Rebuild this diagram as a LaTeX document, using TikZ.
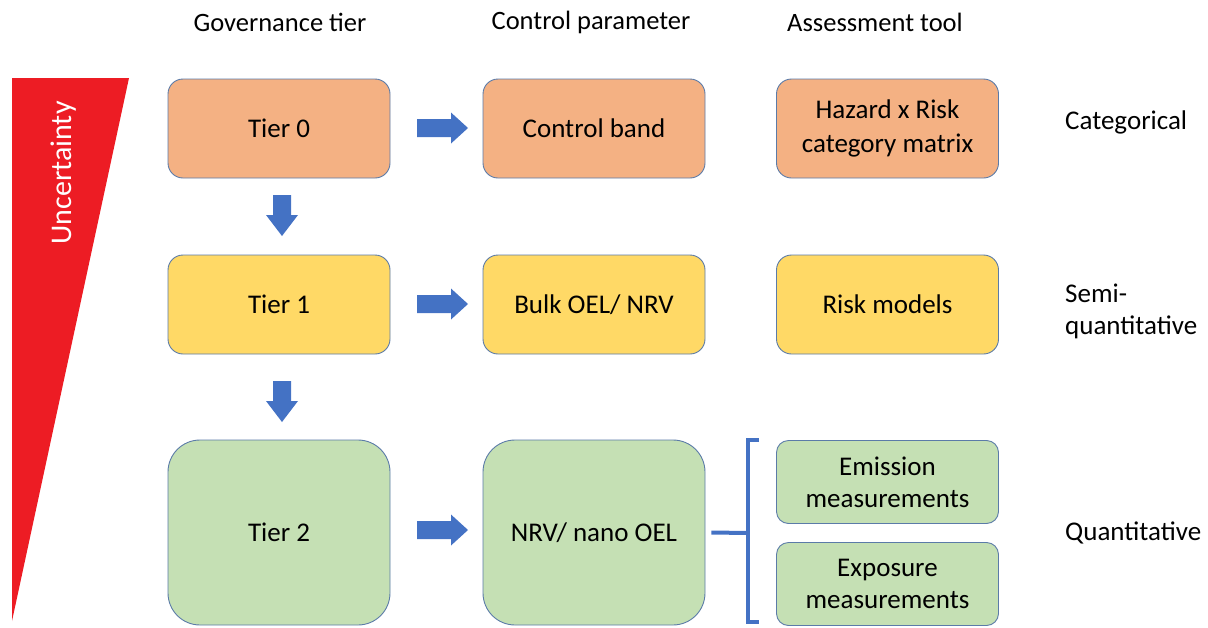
\documentclass[tikz,border=0pt]{standalone}
\usepackage{fontspec}
\setmainfont{Carlito}
\begin{document}
\begin{tikzpicture}[x=1pt,y=-1pt,
  box/.style={draw=boxline, line width=0.9pt, rounded corners=15pt, minimum width=222pt, minimum height=99pt, align=center, font=\fontsize{27}{34}\selectfont, inner sep=0pt},
  bigbox/.style={box, rounded corners=32pt, minimum height=185pt},
  smallbox/.style={box, rounded corners=12pt, minimum height=83pt, font=\fontsize{27}{32}\selectfont},
  hdr/.style={font=\fontsize{26.5}{30}\selectfont, inner sep=0pt},
  side/.style={font=\fontsize{27}{32}\selectfont, inner sep=0pt, anchor=west, align=left},
  blockarrow/.style={fill=arrowblue, draw=none}]
\definecolor{boxline}{HTML}{5B7BA8}
\definecolor{orangef}{HTML}{F4B183}
\definecolor{yellowf}{HTML}{FFD966}
\definecolor{greenf}{HTML}{C5E0B4}
\definecolor{arrowblue}{HTML}{4472C4}
\definecolor{redtri}{HTML}{ED1C24}
\useasboundingbox (0,0) rectangle (1208,627);
% uncertainty triangle
\fill[redtri] (12,78) -- (129,78) -- (12,621) -- cycle;
\node[rotate=90, text=white, font=\fontsize{30}{34}\selectfont, inner sep=0pt] (unc) at (64,173) {Uncertainty};
% headers
\node[hdr] (h1) at (280,22) {Governance tier};
\node[hdr] (h2) at (591,22) {Control parameter};
\node[hdr] (h3) at (875,22) {Assessment tool};
% boxes
\node[box, fill=orangef] (t0) at (279,128.5) {Tier 0};
\node[box, fill=orangef] (cb) at (594,128.5) {Control band};
\node[box, fill=orangef] (hz) at (887.5,128.5) {Hazard x Risk\\category matrix};
\node[box, fill=yellowf] (t1) at (279,304.5) {Tier 1};
\node[box, fill=yellowf] (bo) at (594,304.5) {Bulk OEL/ NRV};
\node[box, fill=yellowf] (rm) at (887.5,304.5) {Risk models};
\node[bigbox, fill=greenf] (t2) at (279,532.5) {Tier 2};
\node[bigbox, fill=greenf] (nn) at (594,532.5) {NRV/ nano OEL};
\node[smallbox, fill=greenf] (em) at (887.5,482) {Emission\\measurements};
\node[smallbox, fill=greenf] (ex) at (887.5,584) {Exposure\\measurements};
% side labels
\node[side] (cat) at (1065,122) {Categorical};
\node[side] (semi) at (1065,311) {Semi-\\quantitative};
\node[side] (quant) at (1065,533) {Quantitative};
% right block arrows
\foreach \yy in {128,304,530}{
  \fill[arrowblue] (417,\yy-9) -- (451,\yy-9) -- (451,\yy-15.5) -- (468,\yy) -- (451,\yy+15.5) -- (451,\yy+9) -- (417,\yy+9) -- cycle;
}
% down block arrows
\foreach \yy in {195,381}{
  \fill[arrowblue] (273,\yy) -- (291,\yy) -- (291,\yy+20) -- (298,\yy+20) -- (282,\yy+41) -- (266,\yy+20) -- (273,\yy+20) -- cycle;
}
% bracket
\coordinate (bj) at (748,533);
\draw[arrowblue, line width=4pt] (nn.east) ++(6,0) -- (bj);
\draw[arrowblue, line width=4pt, line join=miter] (759,440) -- (748,440) -- (748,622) -- (759,622);
\end{tikzpicture}
\end{document}
